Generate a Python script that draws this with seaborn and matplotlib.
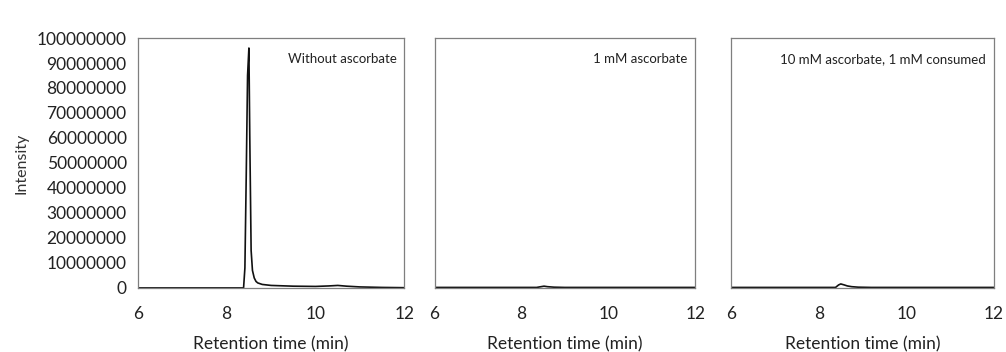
import numpy as np
import pandas as pd
import matplotlib
matplotlib.use('Agg')
import matplotlib.pyplot as plt
import seaborn as sns
from matplotlib.ticker import FuncFormatter

sns.set_style('white')
plt.rcParams['font.family'] = ['Lato', 'DejaVu Sans']

# chromatogram traces (time in min, intensity in counts)
time_no_asc = [6.0, 8.38, 8.41, 8.44, 8.47, 8.50, 8.52, 8.55, 8.58, 8.62, 8.66, 8.70,
               8.80, 9.0, 9.5, 10.0, 10.3, 10.5, 10.7, 11.0, 11.5, 12.0]
int_no_asc = [0, 0, 8e6, 45e6, 85e6, 96e6, 60e6, 15e6, 7e6, 4e6, 2.6e6, 2.0e6,
              1.4e6, 1.0e6, 0.7e6, 0.6e6, 0.8e6, 1.0e6, 0.7e6, 0.4e6, 0.2e6, 0.1e6]

time_1mm = [6.0, 8.0, 8.35, 8.45, 8.52, 8.60, 8.75, 9.0, 10.0, 11.0, 12.0]
int_1mm = [0.2e6, 0.2e6, 0.2e6, 0.5e6, 0.7e6, 0.5e6, 0.3e6, 0.2e6, 0.2e6, 0.2e6, 0.2e6]

time_10mm = [6.0, 8.0, 8.38, 8.45, 8.50, 8.58, 8.65, 8.75, 8.9, 9.2, 10.0, 11.0, 12.0]
int_10mm = [0.2e6, 0.2e6, 0.2e6, 1.2e6, 1.6e6, 1.2e6, 0.8e6, 0.5e6, 0.3e6, 0.2e6, 0.2e6, 0.2e6, 0.2e6]

panel_labels = ['Without ascorbate', '1 mM ascorbate', '10 mM ascorbate, 1 mM consumed']
traces = [(time_no_asc, int_no_asc), (time_1mm, int_1mm), (time_10mm, int_10mm)]

fig = plt.figure(figsize=(10.06, 3.52), dpi=100)
positions = [
    [0.137, 0.182, 0.265, 0.710],
    [0.432, 0.182, 0.259, 0.710],
    [0.727, 0.182, 0.261, 0.710],
]

for i, (pos, (t, y), label) in enumerate(zip(positions, traces, panel_labels)):
    ax = fig.add_axes(pos)
    df = pd.DataFrame({'time': t, 'intensity': y})
    sns.lineplot(data=df, x='time', y='intensity', ax=ax, color='#111111',
                 linewidth=1.2, sort=False)
    ax.set_xlim(6, 12)
    ax.set_ylim(0, 100000000)
    ax.set_xticks([6, 8, 10, 12])
    ax.set_yticks(np.arange(0, 100000001, 10000000))
    ax.tick_params(axis='x', length=0, labelsize=12.5, pad=13, labelcolor='#222222')
    ax.tick_params(axis='y', length=0, labelsize=12.5, pad=8, labelcolor='#222222')
    ax.set_xlabel('Retention time (min)', fontsize=12.5, color='#222222', labelpad=10)
    if i == 0:
        ax.yaxis.set_major_formatter(FuncFormatter(lambda v, p: f'{int(v)}'))
        ax.set_ylabel('Intensity', fontsize=11.5, color='#333333', labelpad=6)
    else:
        ax.set_yticklabels([])
        ax.set_ylabel('')
    for s in ax.spines.values():
        s.set_visible(True)
        s.set_color('#7f7f7f')
        s.set_linewidth(0.9)
    ax.text(0.97, 0.915, label, transform=ax.transAxes, ha='right', va='center',
            fontsize=9.5, color='#222222')

fig.savefig('out.png', dpi=100)
